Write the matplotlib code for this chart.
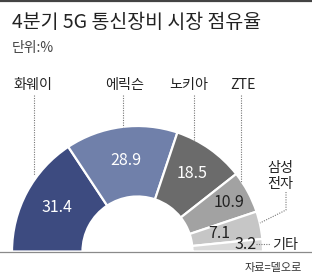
import numpy as np
import matplotlib.pyplot as plt

plt.rcParams['font.family'] = ['Noto Sans CJK KR', 'DejaVu Sans']

companies = ['화웨이', '에릭슨', '노키아', 'ZTE', '삼성\n전자', '기타']
shares = [31.4, 28.9, 18.5, 10.9, 7.1, 3.2]
title = '4분기 5G 통신장비 시장 점유율'
unit = '단위:%'
source = '자료=델오로'

colors = ['#3d4b80', '#7080aa', '#6b6b6b', '#a2a2a2', '#c6c6c6', '#d9d9d9']
text_colors = ['white', 'white', 'white', '#222222', '#222222', '#222222']

W, H = 312, 277
cx, cy = 137.5, H - 251.5
r_out, r_in = 125.5, 55


def py(y):
    # pixel row from top -> data y
    return H - y


fig = plt.figure(figsize=(W / 100, H / 100), dpi=100)
ax = fig.add_axes([0, 0, 1, 1])

wedges, _ = ax.pie(shares + [sum(shares)], colors=colors + ['white'],
                   startangle=180, counterclock=False, radius=r_out,
                   center=(cx, cy),
                   wedgeprops=dict(width=r_out - r_in, edgecolor='white', linewidth=1.6))
wedges[-1].set_visible(False)

ax.set_xlim(0, W)
ax.set_ylim(0, H)
ax.set_aspect('auto')
ax.axis('off')

# value labels inside the ring
label_r = [92, 92, 95, 104, 84, 108]
ang_nudge = [0, 0, 0, 0, 0.5, 1.1]
cum = np.cumsum([0] + shares)
for i, v in enumerate(shares):
    mid = 180 - (cum[i] + v / 2) * 1.8 + ang_nudge[i]
    a = np.deg2rad(mid)
    x = cx + label_r[i] * np.cos(a)
    y = cy + label_r[i] * np.sin(a)
    ax.text(x, y, f'{v}', color=text_colors[i], fontsize=11.5,
            ha='center', va='center')

# company names with dotted leaders
name_pos = [(33, 85), (125, 85), (189, 85), (243, 85), (280, 176), (285, 245)]
for name, (x, y) in zip(companies, name_pos):
    ax.text(x, py(y), name, fontsize=10.2, color='#222222', ha='center',
            va='center', linespacing=1.25)

leaders = [
    [(34, 95), (34, 175)],
    [(123, 95), (123, 127)],
    [(194, 95), (194, 140)],
    [(241, 95), (241, 183)],
    [(286, 192), (286, 210), (260, 223)],
    [(256, 244), (270, 244)],
]
for pts in leaders:
    xs = [p[0] for p in pts]
    ys = [py(p[1]) for p in pts]
    ax.plot(xs, ys, ls=(0, (1, 1.2)), color='#777777', lw=0.8)

# baseline and top rule
ax.plot([0, W], [cy, cy], color='#8a8a8a', lw=0.9)
ax.plot([0, W], [H - 1, H - 1], color='#444444', lw=1.6)

ax.text(12, py(22), title, fontsize=14, color='#222222', ha='left', va='center')
ax.text(12, py(48), unit, fontsize=10, color='#444444', ha='left', va='center')
ax.text(302, py(268), source, fontsize=8, color='#333333', ha='right', va='center')

fig.savefig('out.png', dpi=100)
